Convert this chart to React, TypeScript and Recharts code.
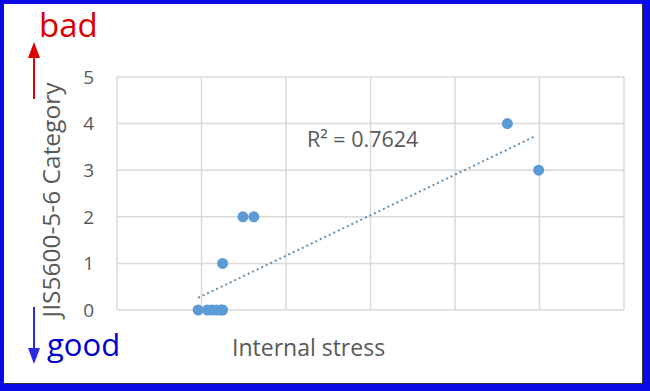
import React from "react";
import { ScatterChart, Scatter, XAxis, YAxis, CartesianGrid, ReferenceLine } from "recharts";

const stressX = [0.96, 1.07, 1.12, 1.18, 1.23, 1.25, 1.25, 1.49, 1.62, 4.62, 4.99];
const categoryY = [0, 0, 0, 0, 0, 0, 1, 2, 2, 4, 3];
const trendX = [0.96, 4.95];
const trendY = [0.26, 3.73];
const yTicks = [0, 1, 2, 3, 4, 5];
const xTicks = [0, 1, 2, 3, 4, 5, 6];

const points = stressX.map((x, i) => ({ x, y: categoryY[i] }));
const trend = trendX.map((x, i) => ({ x, y: trendY[i] }));

const FONT = "'Open Sans', 'Noto Sans', sans-serif";
const GRAY = "#595959";
const GRID = "#d9d9d9";

export default function App() {
  return (
    <div style={{ position: "absolute", left: 0, top: 0, width: 650, height: 391, background: "#0a0ae6", fontFamily: FONT }}>
      <div style={{ position: "absolute", left: 4, top: 4, width: 638, height: 379, background: "#fff", borderRight: "1px solid #333", borderBottom: "1px solid #333" }} />
      <div style={{ position: "absolute", left: 0, top: 0 }}>
        <ScatterChart width={650} height={391} margin={{ top: 77, right: 26, bottom: 80, left: 77 }}>
          <CartesianGrid stroke={GRID} strokeWidth={1.5} vertical={false} />
          {xTicks.map((t) => (
            <ReferenceLine key={t} x={t} stroke={GRID} strokeWidth={1.5} />
          ))}
          <XAxis type="number" dataKey="x" domain={[0, 6]} ticks={xTicks} tick={false} axisLine={false} tickLine={false} height={1} />
          <YAxis
            type="number"
            dataKey="y"
            domain={[0, 5]}
            ticks={yTicks}
            width={40}
            axisLine={false}
            tickLine={false}
            tick={{ fill: GRAY, fontSize: 19, fontFamily: FONT }}
            tickMargin={17}
          />
          <Scatter data={trend} isAnimationActive={false} shape={() => null} line={{ stroke: "#5f8fb5", strokeWidth: 2, strokeDasharray: "2 3" }} />
          <Scatter data={points} isAnimationActive={false} fill="#5b9bd5" shape={(p: any) => <circle cx={p.cx} cy={p.cy} r={5.5} fill="#5b9bd5" />} />
        </ScatterChart>
      </div>
      <svg style={{ position: "absolute", left: 0, top: 0 }} width={650} height={391} fontFamily={FONT}>
        <text x={307} y={147} fontSize={21.5} fill={GRAY}>R² = 0.7624</text>
        <text x={232} y={356} fontSize={23} fill={GRAY}>Internal stress</text>
        <text x={60} y={200} fontSize={24.5} fill={GRAY} textAnchor="middle" transform="rotate(-90, 60, 200)">JIS5600-5-6 Category</text>
        <text x={39} y={37} fontSize={33} fill="#dd0000">bad</text>
        <text x={47} y={356} fontSize={31} fill="#0000cc">good</text>
        <line x1={34} y1={99} x2={34} y2={56} stroke="#dd0000" strokeWidth={2} />
        <polygon points="28,58 40,58 34,42" fill="#dd0000" />
        <line x1={34} y1={307} x2={34} y2={350} stroke="#2a2ae0" strokeWidth={2} />
        <polygon points="28,348 40,348 34,364" fill="#2a2ae0" />
      </svg>
    </div>
  );
}
